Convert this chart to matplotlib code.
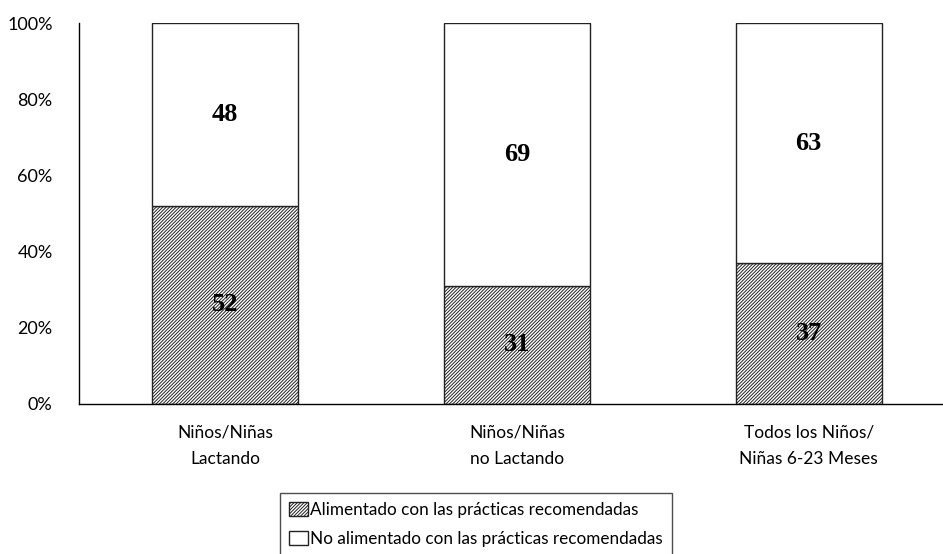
import matplotlib
matplotlib.use('Agg')
import matplotlib.pyplot as plt
import numpy as np

# data
categories = ['Niños/Niñas\nLactando', 'Niños/Niñas\nno Lactando', 'Todos los Niños/\nNiñas 6-23 Meses']
alimentado = [52, 31, 37]
no_alimentado = [48, 69, 63]
series_labels = ['Alimentado con las prácticas recomendadas',
                 'No alimentado con las prácticas recomendadas']
yticks = [0, 20, 40, 60, 80, 100]

plt.rcParams['font.family'] = ['Lato', 'DejaVu Sans']
plt.rcParams['hatch.linewidth'] = 0.7
plt.rcParams['hatch.color'] = '#444444'

W, H = 943, 554
fig = plt.figure(figsize=(W / 100, H / 100), dpi=100)
ax = fig.add_axes([79 / W, 1 - 404 / H, (943 - 79) / W, (404 - 23) / H])

x = np.arange(len(categories))
b1 = ax.bar(x, alimentado, width=0.5, color='white', edgecolor='#222222',
            linewidth=1.0, hatch='//////////', label=series_labels[0])
b2 = ax.bar(x, no_alimentado, width=0.5, bottom=alimentado, color='white',
            edgecolor='#222222', linewidth=1.0, label=series_labels[1])

for xi, a, n in zip(x, alimentado, no_alimentado):
    ax.text(xi, a / 2, str(a), ha='center', va='center', fontsize=19,
            fontweight='bold', family='Liberation Serif')
    ax.text(xi, a + n / 2, str(n), ha='center', va='center', fontsize=19,
            fontweight='bold', family='Liberation Serif')

ax.set_xlim(-0.5, 2.46)
ax.set_ylim(0, 100)
ax.set_yticks(yticks)
ax.set_yticklabels([f'{v}%' for v in yticks], fontsize=13)
ax.set_xticks(x)
ax.set_xticklabels(categories, fontsize=12.5, linespacing=1.75)
ax.tick_params(axis='y', length=0, pad=19)
ax.tick_params(axis='x', length=0, pad=15)

for s in ['top', 'right']:
    ax.spines[s].set_visible(False)
ax.spines['left'].set_linewidth(1.0)
ax.spines['bottom'].set_linewidth(1.0)

leg = fig.legend(handles=[b1, b2], loc='upper center',
                 bbox_to_anchor=(476 / W, 1 - 493 / H), fontsize=12.3,
                 frameon=True, fancybox=False, edgecolor='#222222',
                 handlelength=1.1, handleheight=0.9, handletextpad=0.15,
                 labelspacing=0.8, borderpad=0.5, borderaxespad=0)
leg.get_frame().set_linewidth(1.0)

fig.savefig('out.png', dpi=100)
